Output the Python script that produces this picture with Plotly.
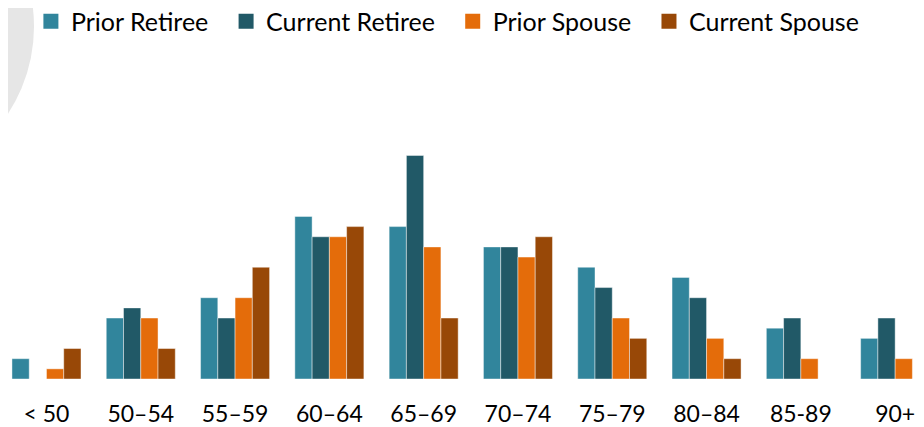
import plotly.graph_objects as go

# Age bands on the x axis
age_bands = ["< 50", "50–54", "55–59", "60–64", "65–69",
             "70–74", "75–79", "80–84", "85-89", "90+"]

# Counts per band
prior_retiree = [2, 6, 8, 16, 15, 13, 11, 10, 5, 4]
current_retiree = [0, 7, 6, 14, 22, 13, 9, 8, 6, 6]
prior_spouse = [1, 6, 8, 14, 13, 12, 6, 4, 2, 2]
current_spouse = [3, 3, 11, 15, 6, 14, 4, 2, 0, 0]

series_names = ["Prior Retiree", "Current Retiree", "Prior Spouse", "Current Spouse"]
series_values = [prior_retiree, current_retiree, prior_spouse, current_spouse]
series_colors = ["#31859C", "#215967", "#E46C0A", "#984807"]

FONT = "Lato, Calibri, sans-serif"
PAD = "\u00a0\u00a0"

fig = go.Figure()

for name, vals, col in zip(series_names, series_values, series_colors):
    fig.add_trace(go.Bar(
        x=list(range(len(age_bands))),
        y=vals,
        name=name,
        marker=dict(color=col, line=dict(color="rgba(255,255,255,0.55)", width=0.8)),
        showlegend=False,
    ))

# legend entries with bigger square swatches
for name, col in zip(series_names, series_colors):
    fig.add_trace(go.Scatter(
        x=[None], y=[None], mode="markers", name=name + PAD,
        marker=dict(symbol="square", size=15, color=col),
    ))

# light grey disc peeking in at the top-left corner
fig.add_shape(type="circle", xref="paper", yref="paper",
              x0=-0.3297, x1=0.0284, y0=0.752, y1=2.023,
              fillcolor="#E6E6E6", line=dict(width=0), layer="below")

# page body has an 8px margin, so the figure is sized to fit the window
fig.update_layout(
    width=916, height=419,
    margin=dict(l=0, r=0, t=117, b=44),
    paper_bgcolor="white", plot_bgcolor="rgba(0,0,0,0)",
    barmode="group", bargap=0.268, bargroupgap=0,
    font=dict(family=FONT, color="#000000"),
    legend=dict(orientation="h", x=0.025, xanchor="left",
                yref="container", y=0.968, yanchor="middle",
                font=dict(size=25, family=FONT), bgcolor="rgba(0,0,0,0)"),
    xaxis=dict(range=[-0.408, 9.306], tickmode="array",
               tickvals=list(range(len(age_bands))), ticktext=age_bands,
               showgrid=False, zeroline=False, showline=False,
               ticklabelstandoff=19, tickfont=dict(size=23, family=FONT)),
    yaxis=dict(range=[0, 25], visible=False, fixedrange=True),
)

fig.write_html("out.html")
